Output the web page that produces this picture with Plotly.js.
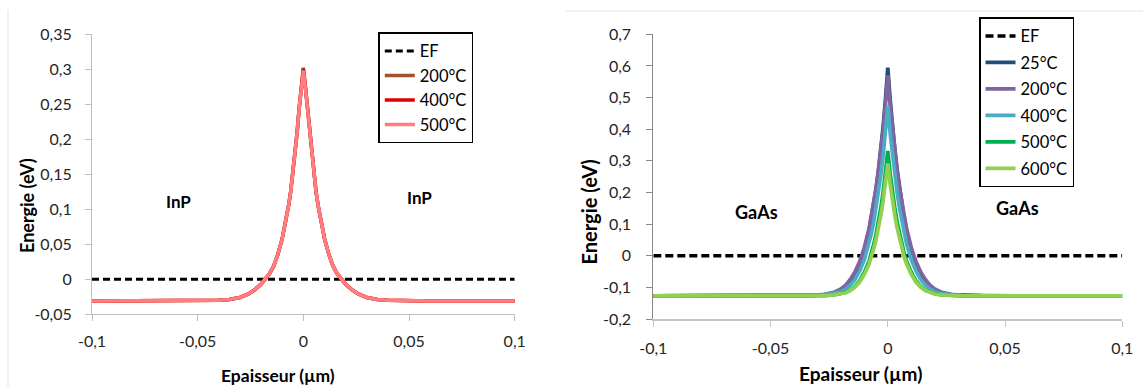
<!DOCTYPE html>
<html>
<head>
<meta charset="utf-8">
<script src="https://cdn.plot.ly/plotly-3.0.1.min.js"></script>
<style>html,body{margin:0;padding:0;background:#fff;}#chart{width:1143px;height:387px;}</style>
</head>
<body>
<div id="chart"></div>
<script>
// ---------- Left chart: InP ----------
const xInP = [-0.1,-0.06,-0.04,-0.035,-0.03,-0.026,-0.023,-0.02,-0.018,-0.016,-0.014,-0.012,-0.01,-0.008,-0.007,-0.006,-0.005,-0.004,-0.003,-0.002,-0.001,0,0.001,0.002,0.003,0.004,0.005,0.006,0.007,0.008,0.01,0.012,0.014,0.016,0.018,0.02,0.023,0.026,0.03,0.035,0.04,0.06,0.1];
const inP200 = [-0.031,-0.031,-0.030,-0.029,-0.026,-0.021,-0.015,-0.007,0.000,0.008,0.019,0.036,0.058,0.087,0.105,0.125,0.150,0.176,0.208,0.243,0.274,0.302,0.274,0.243,0.208,0.176,0.150,0.125,0.105,0.087,0.058,0.036,0.019,0.008,0.000,-0.007,-0.015,-0.021,-0.026,-0.029,-0.030,-0.031,-0.031];
const inP400 = [-0.031,-0.031,-0.030,-0.029,-0.026,-0.021,-0.015,-0.007,0.000,0.008,0.019,0.036,0.058,0.087,0.105,0.125,0.150,0.176,0.208,0.243,0.273,0.300,0.273,0.243,0.208,0.176,0.150,0.125,0.105,0.087,0.058,0.036,0.019,0.008,0.000,-0.007,-0.015,-0.021,-0.026,-0.029,-0.030,-0.031,-0.031];
const inP500 = [-0.031,-0.031,-0.030,-0.029,-0.026,-0.021,-0.015,-0.007,0.000,0.008,0.019,0.036,0.058,0.087,0.105,0.125,0.150,0.176,0.208,0.243,0.272,0.298,0.272,0.243,0.208,0.176,0.150,0.125,0.105,0.087,0.058,0.036,0.019,0.008,0.000,-0.007,-0.015,-0.021,-0.026,-0.029,-0.030,-0.031,-0.031];

// ---------- Right chart: GaAs ----------
const xGaAs = [-0.1,-0.06,-0.04,-0.032,-0.027,-0.023,-0.02,-0.018,-0.016,-0.014,-0.012,-0.01,-0.008,-0.007,-0.006,-0.005,-0.004,-0.003,-0.002,-0.001,0,0.001,0.002,0.003,0.004,0.005,0.006,0.007,0.008,0.01,0.012,0.014,0.016,0.018,0.02,0.023,0.027,0.032,0.04,0.06,0.1];
const gaAs25  = [-0.127,-0.127,-0.126,-0.125,-0.123,-0.118,-0.109,-0.098,-0.082,-0.058,-0.026,0.017,0.079,0.118,0.162,0.212,0.270,0.335,0.407,0.494,0.595,0.494,0.407,0.335,0.270,0.212,0.162,0.118,0.079,0.017,-0.026,-0.058,-0.082,-0.098,-0.109,-0.118,-0.123,-0.125,-0.126,-0.127,-0.127];
const gaAs200 = [-0.127,-0.127,-0.126,-0.125,-0.122,-0.116,-0.105,-0.093,-0.075,-0.051,-0.018,0.026,0.086,0.124,0.166,0.214,0.268,0.329,0.397,0.477,0.570,0.477,0.397,0.329,0.268,0.214,0.166,0.124,0.086,0.026,-0.018,-0.051,-0.075,-0.093,-0.105,-0.116,-0.122,-0.125,-0.126,-0.127,-0.127];
const gaAs400 = [-0.127,-0.127,-0.127,-0.126,-0.124,-0.120,-0.114,-0.106,-0.093,-0.075,-0.048,-0.012,0.038,0.070,0.107,0.150,0.198,0.253,0.315,0.388,0.475,0.388,0.315,0.253,0.198,0.150,0.107,0.070,0.038,-0.012,-0.048,-0.075,-0.093,-0.106,-0.114,-0.120,-0.124,-0.126,-0.127,-0.127,-0.127];
const gaAs500 = [-0.127,-0.127,-0.127,-0.127,-0.126,-0.124,-0.120,-0.116,-0.109,-0.097,-0.079,-0.052,-0.017,0.007,0.036,0.069,0.107,0.151,0.200,0.260,0.331,0.260,0.200,0.151,0.107,0.069,0.036,0.007,-0.017,-0.052,-0.079,-0.097,-0.109,-0.116,-0.120,-0.124,-0.126,-0.127,-0.127,-0.127,-0.127];
const gaAs600 = [-0.127,-0.127,-0.127,-0.127,-0.126,-0.124,-0.121,-0.117,-0.110,-0.099,-0.083,-0.059,-0.026,-0.005,0.022,0.052,0.087,0.127,0.173,0.227,0.292,0.227,0.173,0.127,0.087,0.052,0.022,-0.005,-0.026,-0.059,-0.083,-0.099,-0.110,-0.117,-0.121,-0.124,-0.126,-0.127,-0.127,-0.127,-0.127];

// Fermi level
const xEF = [-0.1, 0.1];
const yEF = [0, 0];

// Tick labels
const xTickVals = [-0.1,-0.05,0,0.05,0.1];
const xTickText = ['-0,1','-0,05','0','0,05','0,1'];
const yTickValsL = [-0.05,0,0.05,0.1,0.15,0.2,0.25,0.3,0.35];
const yTickTextL = ['-0,05','0','0,05','0,1','0,15','0,2','0,25','0,3','0,35'];
const yTickValsR = [-0.2,-0.1,0,0.1,0.2,0.3,0.4,0.5,0.6,0.7];
const yTickTextR = ['-0,2','-0,1','0','0,1','0,2','0,3','0,4','0,5','0,6','0,7'];

// Labels
const leftNames = ['EF','200°C','400°C','500°C'];
const rightNames = ['EF','25°C','200°C','400°C','500°C','600°C'];
const materialLeft = 'InP';
const materialRight = 'GaAs';
const yTitle = 'Energie (eV)';
const xTitle = 'Epaisseur (µm)';

const FONT = 'Lato, "Open Sans", "Liberation Sans", sans-serif';

function tr(x, y, name, color, width, dash, xa, ya, leg, grp) {
  return {x: x, y: y, name: name, type: 'scatter', mode: 'lines',
    line: {color: color, width: width, dash: dash || 'solid'},
    xaxis: xa, yaxis: ya, legend: leg, legendgroup: grp, hoverinfo: 'skip'};
}

const data = [
  tr(xEF, yEF, leftNames[0], '#000000', 3, '7px,4px', 'x', 'y', 'legend', 'l0'),
  tr(xInP, inP200, leftNames[1], '#a0522d', 3.5, null, 'x', 'y', 'legend', 'l1'),
  tr(xInP, inP400, leftNames[2], '#e00000', 3.5, null, 'x', 'y', 'legend', 'l2'),
  tr(xInP, inP500, leftNames[3], '#ff7c80', 3.5, null, 'x', 'y', 'legend', 'l3'),
  tr(xEF, yEF, rightNames[0], '#000000', 3.5, '8px,4px', 'x2', 'y2', 'legend2', 'r0'),
  tr(xGaAs, gaAs25, rightNames[1], '#1f4e79', 3.75, null, 'x2', 'y2', 'legend2', 'r1'),
  tr(xGaAs, gaAs200, rightNames[2], '#8064a2', 3.75, null, 'x2', 'y2', 'legend2', 'r2'),
  tr(xGaAs, gaAs400, rightNames[3], '#4bacc6', 3.75, null, 'x2', 'y2', 'legend2', 'r3'),
  tr(xGaAs, gaAs500, rightNames[4], '#00b050', 3.75, null, 'x2', 'y2', 'legend2', 'r4'),
  tr(xGaAs, gaAs600, rightNames[5], '#92d050', 3.75, null, 'x2', 'y2', 'legend2', 'r5')
];

const W = 1143, H = 387;
const px = v => v / W;
const py = v => (H - v) / H;

function axisCommon(lineColor) {
  return {showgrid: false, zeroline: false, showline: true, linecolor: lineColor, linewidth: 1,
    ticks: 'outside', ticklen: 6, tickcolor: lineColor, tickwidth: 1,
    tickfont: {family: FONT, size: 16, color: '#262626'}, tickmode: 'array', fixedrange: true};
}

const layout = {
  width: W, height: H,
  margin: {l: 0, r: 0, t: 0, b: 0},
  paper_bgcolor: '#ffffff', plot_bgcolor: '#ffffff',
  font: {family: FONT, size: 16, color: '#000'},
  showlegend: true,
  xaxis: Object.assign(axisCommon('#bfbfbf'), {domain: [px(92), px(514.7)], range: [-0.1, 0.1], anchor: 'y',
    tickvals: xTickVals, ticktext: xTickText, ticklabelstandoff: 6}),
  yaxis: Object.assign(axisCommon('#bfbfbf'), {domain: [py(314.3), py(34)], range: [-0.05, 0.35], anchor: 'x',
    tickvals: yTickValsL, ticktext: yTickTextL, ticklabelstandoff: 10}),
  xaxis2: Object.assign(axisCommon('#c4c4c4'), {domain: [px(653.3), px(1122.3)], range: [-0.1, 0.1], anchor: 'y2',
    tickvals: xTickVals, ticktext: xTickText, ticklabelstandoff: 8, linewidth: 1.5}),
  yaxis2: Object.assign(axisCommon('#8a8a8a'), {domain: [py(319), py(34.3)], range: [-0.2, 0.7], anchor: 'x2',
    tickvals: yTickValsR, ticktext: yTickTextR, ticklabelstandoff: 12}),
  legend: {x: px(378.3), y: py(32.3), xanchor: 'left', yanchor: 'top', bgcolor: '#ffffff',
    bordercolor: '#000000', borderwidth: 1.5, font: {family: FONT, size: 16.5, color: '#000'},
    tracegroupgap: 0, itemclick: false, itemdoubleclick: false},
  legend2: {x: px(979), y: py(17.3), xanchor: 'left', yanchor: 'top', bgcolor: '#ffffff',
    bordercolor: '#000000', borderwidth: 1.5, font: {family: FONT, size: 16.5, color: '#000'},
    tracegroupgap: 2, itemclick: false, itemdoubleclick: false},
  annotations: [
    {text: materialLeft, x: -0.059, y: 0.111, xref: 'x', yref: 'y', showarrow: false, font: {family: FONT, size: 17, color: '#000', weight: 'bold'}},
    {text: materialLeft, x: 0.055, y: 0.116, xref: 'x', yref: 'y', showarrow: false, font: {family: FONT, size: 17, color: '#000', weight: 'bold'}},
    {text: materialRight, x: -0.056, y: 0.138, xref: 'x2', yref: 'y2', showarrow: false, font: {family: FONT, size: 18, color: '#000', weight: 'bold'}},
    {text: materialRight, x: 0.0553, y: 0.150, xref: 'x2', yref: 'y2', showarrow: false, font: {family: FONT, size: 18, color: '#000', weight: 'bold'}},
    {text: yTitle, x: px(27), y: py(206), xref: 'paper', yref: 'paper', textangle: -90, showarrow: false, xanchor: 'center', yanchor: 'middle', font: {family: FONT, size: 18, color: '#000', weight: 'bold'}},
    {text: yTitle, x: px(589), y: py(212.5), xref: 'paper', yref: 'paper', textangle: -90, showarrow: false, xanchor: 'center', yanchor: 'middle', font: {family: FONT, size: 20, color: '#000', weight: 'bold'}},
    {text: xTitle, x: px(278), y: py(375), xref: 'paper', yref: 'paper', showarrow: false, xanchor: 'center', yanchor: 'middle', font: {family: FONT, size: 17.5, color: '#000', weight: 'bold'}},
    {text: xTitle, x: px(860), y: py(373), xref: 'paper', yref: 'paper', showarrow: false, xanchor: 'center', yanchor: 'middle', font: {family: FONT, size: 19, color: '#000', weight: 'bold'}}
  ],
  shapes: [
    {type: 'line', xref: 'paper', yref: 'paper', x0: px(8), x1: px(8), y0: py(10), y1: 0, line: {color: '#e3e3e3', width: 1}},
    {type: 'line', xref: 'paper', yref: 'paper', x0: px(566), x1: 1, y0: py(11), y1: py(11), line: {color: '#e3e3e3', width: 1}}
  ]
};

Plotly.newPlot('chart', data, layout, {displayModeBar: false, staticPlot: true});
</script>
</body>
</html>
